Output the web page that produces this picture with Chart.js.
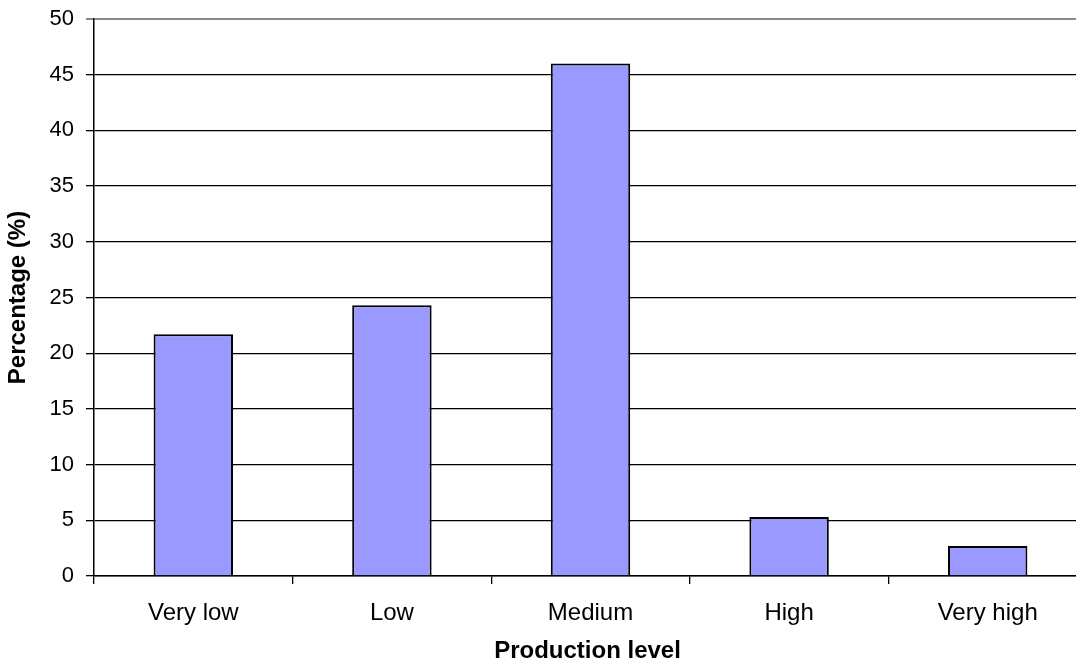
<!DOCTYPE html>
<html>
<head>
<meta charset="utf-8">
<script src="https://cdn.jsdelivr.net/npm/chart.js@4/dist/chart.umd.min.js"></script>
<style>
  html, body { margin: 0; padding: 0; background: #fff; overflow: hidden; }
  #wrap { width: 1100px; height: 659px; position: relative; }
</style>
</head>
<body>
<div id="wrap"><canvas id="chart"></canvas></div>
<script>
// Share of farms per production level
const categories = ['Very low', 'Low', 'Medium', 'High', 'Very high'];
const percentages = [21.7, 24.3, 46.0, 5.3, 2.7];
const yTicks = [0, 5, 10, 15, 20, 25, 30, 35, 40, 45, 50];

const xTitle = 'Production level';
const yTitle = 'Percentage (%)';

const FONT = '"Liberation Sans", Arial, sans-serif';

// Axis title under the category labels
const xTitlePlugin = {
  id: 'xTitle',
  afterDraw(chart) {
    const { ctx, chartArea } = chart;
    ctx.save();
    ctx.font = 'bold 24px ' + FONT;
    ctx.fillStyle = '#000';
    ctx.textAlign = 'center';
    ctx.textBaseline = 'alphabetic';
    ctx.fillText(xTitle, (chartArea.left + chartArea.right) / 2 - 3, 658);
    ctx.restore();
  }
};

new Chart(document.getElementById('chart'), {
  type: 'bar',
  data: {
    labels: categories,
    datasets: [{
      data: percentages,
      backgroundColor: '#9999FF',
      borderColor: '#000',
      borderWidth: 2,
      categoryPercentage: 1,
      barPercentage: 0.4
    }]
  },
  options: {
    responsive: true,
    maintainAspectRatio: false,
    animation: false,
    devicePixelRatio: 1,
    layout: { padding: { left: 0, top: 19, right: 13, bottom: 0 } },
    plugins: {
      legend: { display: false },
      tooltip: { enabled: false }
    },
    scales: {
      x: {
        offset: true,
        grid: {
          offset: true,
          drawOnChartArea: false,
          drawTicks: true,
          tickLength: 8,
          color: '#000',
          lineWidth: 1.3
        },
        border: { display: true, color: '#000', width: 1.5 },
        ticks: {
          color: '#000',
          padding: 15,
          font: { family: FONT, size: 24 },
          maxRotation: 0
        },
        afterFit(scale) {
          scale.height = 83;
          scale.paddingLeft = 0;
          scale.paddingRight = 0;
        }
      },
      y: {
        min: 0,
        max: 50,
        afterBuildTicks(scale) { scale.ticks = yTicks.map(v => ({ value: v })); },
        grid: {
          drawTicks: true,
          tickLength: 8,
          color: ctx => (ctx.tick && ctx.tick.value === 50) ? '#8a8a8a' : '#000',
          lineWidth: ctx => (ctx.tick && ctx.tick.value === 50) ? 2 : 1.3
        },
        border: { display: true, color: '#000', width: 1.5 },
        ticks: {
          color: '#000',
          padding: 12,
          font: { family: FONT, size: 22 }
        },
        title: {
          display: true,
          text: yTitle,
          color: '#000',
          font: { family: FONT, size: 24, weight: 'bold' },
          padding: { top: 4, bottom: 0 }
        },
        afterFit(scale) {
          scale.width = 94;
          scale.paddingTop = 0;
          scale.paddingBottom = 0;
        }
      }
    }
  },
  plugins: [xTitlePlugin]
});
</script>
</body>
</html>
